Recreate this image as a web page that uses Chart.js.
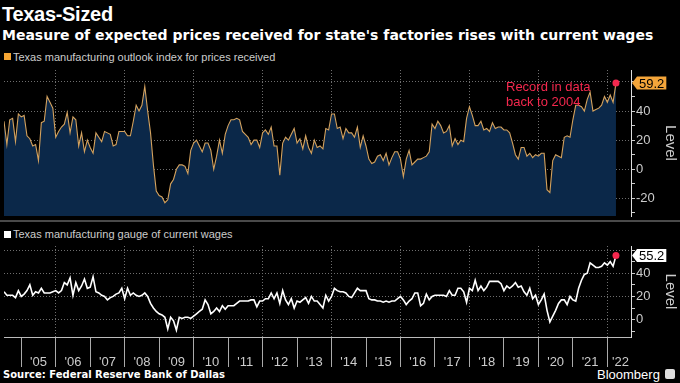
<!DOCTYPE html>
<html>
<head>
<meta charset="utf-8">
<script src="https://cdn.jsdelivr.net/npm/chart.js@4.4.1/dist/chart.umd.min.js"></script>
<style>
  body { margin: 0; background: #000; width: 680px; height: 383px; overflow: hidden; position: relative; color: #fff; font-family: "Liberation Sans", Arial, sans-serif; }
  .abs { position: absolute; white-space: nowrap; }
  #title { left: 2px; top: 4px; font-size: 20px; line-height: 20px; font-weight: bold; letter-spacing: -0.3px; }
  #subtitle { left: 2px; top: 28px; font-family: "DejaVu Sans", sans-serif; font-size: 14px; line-height: 14px; font-weight: bold; }
  .legend { left: 13px; font-size: 11px; line-height: 11px; color: #ccc; }
  .sw { position: absolute; left: 4px; width: 7px; height: 7px; }
  #leg1 { top: 52px; }
  #sw1 { top: 53px; background: #f5a533; }
  #leg2 { top: 229px; }
  #sw2 { top: 231px; background: #fff; }
  #sep { left: 0; top: 220px; width: 680px; height: 2px; background: #4a4a4a; }
  #note { left: 506px; top: 79px; font-size: 13px; line-height: 15px; color: #f5284e; }
  #source { left: 3px; top: 370px; font-family: "DejaVu Sans", sans-serif; font-size: 10px; line-height: 10px; font-weight: bold; }
  #brand { left: 597px; top: 368px; font-size: 13px; line-height: 13px; }
  #icon { left: 665px; top: 369px; width: 10px; height: 10px; background: #ddd; border-radius: 2px; }
  canvas { position: absolute; left: 0; }
  #prices { top: 66px; }
  #wages { top: 242px; }
</style>
</head>
<body>
<div class="abs" id="title">Texas-Sized</div>
<div class="abs" id="subtitle">Measure of expected prices received for state's factories rises with current wages</div>
<div class="sw" id="sw1"></div>
<div class="abs legend" id="leg1">Texas manufacturing outlook index for prices received</div>
<canvas id="prices" width="680" height="154"></canvas>
<div class="abs" id="sep"></div>
<div class="sw" id="sw2"></div>
<div class="abs legend" id="leg2">Texas manufacturing gauge of current wages</div>
<canvas id="wages" width="680" height="125"></canvas>
<div class="abs" id="note">Record in data<br>back to 2004</div>
<div class="abs" id="source">Source: Federal Reserve Bank of Dallas</div>
<div class="abs" id="brand">Bloomberg</div>
<div class="abs" id="icon"></div>
<script>
// monthly readings, first month = mid 2004 (plotted as decimal year)
const firstMonth = 2004.5;
const yearLabels = ["'05", "'06", "'07", "'08", "'09", "'10", "'11", "'12", "'13",
  "'14", "'15", "'16", "'17", "'18", "'19", "'20", "'21", "'22"];

const prices = [
  33, 17, 34, 35, 19, 38, 36, 37, 23, 21, 16, 17,
  6, 32, 33, 50, 46, 42, 22, 26, 29, 31, 39, 25,
  36, 34, 16, 25, 12, 20, 15, 11, 25, 22, 19, 26,
  25, 24, 16, 17, 26, 26, 26, 23, 23, 33, 44, 40,
  44, 57, 40, 25, 3, -15, -18, -19, -23, -21, -10, -7,
  0, 3, 3, 2, -3, 13, 18, 20, 16, 12, 18, 18,
  13, 0, 9, 20, 11, 24, 30, 34, 34, 35, 34, 26,
  24, 22, 17, 20, 20, 15, 25, 27, 24, 29, 16, 16,
  -4, 18, 22, 20, 24, 28, 18, 21, 14, 23, 15, 11,
  20, 15, 16, 14, 28, 27, 38, 38, 28, 29, 21, 28,
  25, 25, 22, 29, 15, 23, 16, 7, 4, 5, 9, 10,
  6, 11, 3, 8, 12, 12, 7, -5, 7, 13, 3, 5,
  7, 7, 8, 9, 12, 31, 28, 33, 30, 25, 26, 30,
  16, 21, 17, 20, 19, 35, 43, 37, 30, 30, 33, 27,
  28, 26, 32, 28, 29, 29, 27, 27, 25, 18, 10, 7,
  15, 15, 9, 11, 8, 10, 9, 11, 11, -14, -16, 6,
  10, 9, 8, 22, 23, 22, 34, 44, 44, 43, 40, 48,
  53, 40, 41, 42, 44, 50, 46, 51, 46, 59.2
];

const wages = [
  24, 21, 21, 21, 19, 25, 20, 22, 25, 30, 21, 24,
  23, 27, 23, 23, 23, 24, 25, 23, 25, 32, 30, 36,
  21, 32, 25, 29, 35, 27, 28, 37, 24, 23, 21, 20,
  17, 19, 20, 22, 23, 27, 18, 27, 21, 23, 21, 20,
  21, 23, 20, 14, 10, 7, 5, 4, 2, -8, 2, -1,
  -9, 2, 1, 2, 2, 1, 3, 5, 7, 9, 17, 13,
  5, 7, 10, 7, 12, 9, 12, 12, 12, 14, 16, 16,
  16, 16, 17, 17, 11, 16, 16, 18, 18, 23, 18, 23,
  14, 25, 17, 13, 18, 10, 16, 15, 17, 19, 14, 20,
  16, 16, 13, 10, 21, 16, 20, 27, 25, 24, 24, 23,
  20, 19, 23, 27, 25, 25, 25, 18, 17, 17, 16, 16,
  15, 16, 15, 16, 16, 18, 20, 17, 13, 16, 18, 23,
  23, 12, 14, 22, 17, 20, 21, 21, 21, 21, 20, 25,
  21, 21, 27, 27, 24, 15, 27, 25, 34, 25, 29, 25,
  28, 33, 33, 33, 33, 31, 25, 29, 27, 29, 32, 28,
  29, 24, 21, 27, 18, 21, 13, 17, 22, 8, -2, 3,
  8, 14, 17, 17, 13, 20, 17, 16, 27, 34, 39, 40,
  49, 47, 45, 45, 46, 49, 47, 50, 46, 55.2
];

const AXIS_FONT = { family: "Liberation Sans", size: 13 };
const GRID = "#6e6e6e";
const X_MAX = 2022.686;

function toPoints(values) {
  return values.map((v, i) => ({ x: firstMonth + i / 12, y: v }));
}

function yearTicks(scale) {
  const t = [];
  yearLabels.forEach((lab, i) => {
    const yr = 2005 + i;
    t.push({ value: yr });
    t.push({ value: yr + (i === yearLabels.length - 1 ? 0.38 : 0.5) });
  });
  scale.ticks = t;
}

function xAxis(showLabels) {
  return {
    type: "linear",
    z: 1,
    min: firstMonth,
    max: X_MAX,
    afterBuildTicks: yearTicks,
    afterFit: (s) => { s.height = showLabels ? 30 : 0; s.paddingLeft = 0; s.paddingRight = 0; },
    border: { display: showLabels, color: "#bbb", dash: [1, 2] },
    grid: {
      drawTicks: showLabels,
      tickLength: 30,
      tickBorderDash: [],
      color: (c) => (Number.isInteger(c.tick.value) && c.tick.value % 2 === 0 ? GRID : "transparent"),
      tickColor: (c) => (Number.isInteger(c.tick.value) ? "#aaa" : "transparent"),
    },
    ticks: {
      display: showLabels,
      autoSkip: false,
      maxRotation: 0,
      padding: -12,
      color: "#ccc",
      font: AXIS_FONT,
      callback: (v) => (Number.isInteger(v) ? "" : yearLabels[Math.floor(v) - 2005]),
    },
  };
}

function yAxis(min, max, tickValues) {
  return {
    position: "right",
    z: 1,
    min,
    max,
    afterBuildTicks: (s) => { s.ticks = tickValues.map((v) => ({ value: v })); },
    afterFit: (s) => { s.width = 49; s.paddingTop = 0; s.paddingBottom = 0; },
    border: { display: true, color: "#ddd", width: 1, dash: [1, 2] },
    grid: {
      tickLength: 4,
      tickBorderDash: [],
      color: (c) => (c.tick.value % 20 === 0 ? GRID : "transparent"),
      tickColor: "#ccc",
    },
    ticks: {
      autoSkip: false,
      padding: 1,
      color: "#ccc",
      font: AXIS_FONT,
      callback: (v) => (v % 20 === 0 && v !== 60 ? String(v) : ""),
    },
    title: {
      display: true,
      text: "Level",
      color: "#ccc",
      font: { family: "Liberation Sans", size: 15 },
      padding: { top: 1, bottom: 0 },
    },
  };
}

const lastValueTag = {
  id: "lastValueTag",
  afterDraw(chart, args, opts) {
    const data = chart.data.datasets[0].data;
    const last = data[data.length - 1].y;
    const y = chart.scales.y.getPixelForValue(last);
    const area = chart.chartArea;
    const x = area.right + 1;
    const ctx = chart.ctx;
    const text = last.toFixed(1);
    ctx.save();
    // solid right axis line
    ctx.strokeStyle = "#ddd";
    ctx.lineWidth = 1;
    ctx.beginPath();
    ctx.moveTo(area.right + 0.5, area.top + 2);
    ctx.lineTo(area.right + 0.5, area.bottom);
    ctx.stroke();
    ctx.font = "13px 'Liberation Sans'";
    const w = ctx.measureText(text).width + 4;
    ctx.fillStyle = opts.color;
    ctx.beginPath();
    ctx.moveTo(x, y);
    ctx.lineTo(x + 5, y - 6.5);
    ctx.lineTo(x + 5 + w, y - 6.5);
    ctx.lineTo(x + 5 + w, y + 6.5);
    ctx.lineTo(x + 5, y + 6.5);
    ctx.closePath();
    ctx.fill();
    ctx.fillStyle = "#000";
    ctx.textBaseline = "middle";
    ctx.fillText(text, x + 7, y + 1);
    ctx.restore();
  },
};

function makeChart(id, values, lineColor, fill, yMin, yMax, yTicks, tagColor, showX) {
  const n = values.length;
  return new Chart(document.getElementById(id), {
    type: "line",
    data: {
      datasets: [
        {
          data: toPoints(values),
          borderColor: lineColor,
          borderWidth: fill ? 1.1 : 1.6,
          backgroundColor: fill || "transparent",
          fill: fill ? "start" : false,
          tension: 0,
          pointRadius: (c) => (c.dataIndex === n - 1 ? 3.5 : 0),
          pointBackgroundColor: "#f5284e",
          pointBorderWidth: 0,
        },
      ],
    },
    options: {
      responsive: false,
      animation: false,
      devicePixelRatio: 1,
      layout: { padding: 0 },
      plugins: {
        legend: { display: false },
        tooltip: { enabled: false },
        lastValueTag: { color: tagColor },
      },
      scales: {
        x: xAxis(showX),
        y: yAxis(yMin, yMax, yTicks),
      },
    },
    plugins: [lastValueTag],
  });
}

makeChart("prices", prices, "#d4a25e", "#0b2849", -32.1, 68.2,
  [-30, -20, -10, 0, 10, 20, 30, 40, 50, 60], "#f4a53a", false);
makeChart("wages", wages, "#ffffff", null, -15, 63.5,
  [-10, 0, 10, 20, 30, 40, 50, 60], "#ffffff", true);
</script>
</body>
</html>
